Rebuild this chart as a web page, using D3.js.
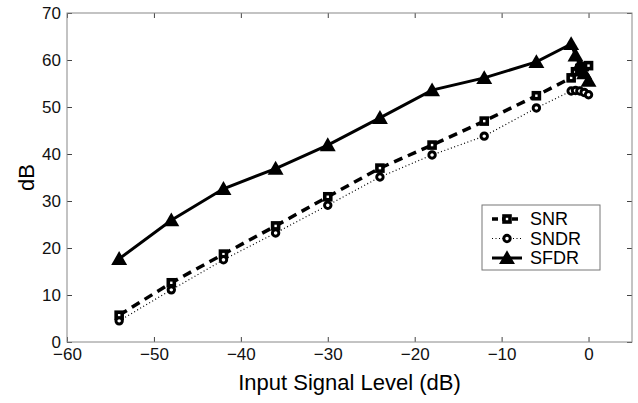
<!DOCTYPE html>
<html lang="en">
<head>
<meta charset="UTF-8">
<title>SNR / SNDR / SFDR vs input level</title>
<script src="https://d3js.org/d3.v7.min.js"></script>
<style>
  body { margin: 0; background: #fff; font-family: "Liberation Sans", Arial, sans-serif; }
  .tick text { font-size: 17px; fill: #111; }
</style>
</head>
<body>
<div id="chart"></div>
<script>
  // data
  const inputLevel = [-54, -48, -42, -36, -30, -24, -18, -12, -6, -2, -1.5, -1, -0.5, 0];
  const snr  = [5.7, 12.6, 18.7, 24.7, 30.9, 37.0, 41.9, 47.0, 52.4, 56.2, 57.5, 58.2, 58.6, 58.8];
  const sndr = [4.5, 11.1, 17.5, 23.2, 29.1, 35.1, 39.8, 43.8, 49.8, 53.4, 53.5, 53.4, 53.1, 52.6];
  const sfdr = [17.7, 25.9, 32.6, 36.9, 41.9, 47.7, 53.6, 56.2, 59.6, 63.4, 61.0, 59.0, 57.2, 55.6];
  const xTicks = [-60, -50, -40, -30, -20, -10, 0];
  const yTicks = [0, 10, 20, 30, 40, 50, 60, 70];
  const seriesNames = ["SNR", "SNDR", "SFDR"];

  const W = 638, H = 403;
  const margin = { top: 13, right: 6, bottom: 61, left: 67 };
  const width = W - margin.left - margin.right;
  const height = H - margin.top - margin.bottom;

  const svg = d3.select("#chart").append("svg")
      .attr("width", W).attr("height", H);
  const g = svg.append("g").attr("transform", `translate(${margin.left},${margin.top})`);

  const x = d3.scaleLinear().domain([-60, 5]).range([0, width]);
  const y = d3.scaleLinear().domain([0, 70]).range([height, 0]);

  // axes, ticks pointing inward like matlab
  const fmt = d => d < 0 ? "\u2212" + Math.abs(d) : d;
  const xAx = g.append("g").attr("transform", `translate(0,${height})`)
      .call(d3.axisBottom(x).tickValues(xTicks).tickSize(-5).tickPadding(9).tickFormat(fmt));
  const yAx = g.append("g")
      .call(d3.axisLeft(y).tickValues(yTicks).tickSize(-5).tickPadding(5).tickFormat(fmt));
  g.append("g").call(d3.axisTop(x).tickValues(xTicks).tickSize(-5).tickFormat(""));
  g.append("g").attr("transform", `translate(${width},0)`)
      .call(d3.axisRight(y).tickValues(yTicks).tickSize(-5).tickFormat(""));
  g.selectAll(".domain").remove();
  g.selectAll(".tick line").attr("stroke", "#444");
  xAx.selectAll(".tick text").attr("dy", "0.5em");
  yAx.selectAll(".tick text").attr("dx", "-1");

  g.append("rect").attr("width", width).attr("height", height)
      .attr("fill", "none").attr("stroke", "#888").attr("stroke-width", 1);

  // axis labels
  svg.append("text").attr("x", margin.left + x(-27.5)).attr("y", 390)
      .attr("text-anchor", "middle").attr("font-size", 22).text("Input Signal Level (dB)");
  svg.append("text").attr("transform", `translate(34,${margin.top + y(35)}) rotate(-90)`)
      .attr("text-anchor", "middle").attr("font-size", 22).text("dB");

  const rows = (vals) => inputLevel.map((v, i) => ({ x: v, y: vals[i] }));
  const line = d3.line().x(d => x(d.x)).y(d => y(d.y));

  const styles = {
    SNR:  { vals: snr,  width: 3.5, dash: "9,6" },
    SNDR: { vals: sndr, width: 1.2, dash: "1,2.5" },
    SFDR: { vals: sfdr, width: 3,   dash: null }
  };

  function drawMarker(sel, name) {
    if (name === "SNR") {
      sel.append("rect").attr("x", -3).attr("y", -3).attr("width", 6).attr("height", 6)
        .attr("fill", "#fff").attr("stroke", "#000").attr("stroke-width", 3.6);
    } else if (name === "SNDR") {
      sel.append("circle").attr("r", 3.2).attr("fill", "#fff")
        .attr("stroke", "#000").attr("stroke-width", 3);
    } else {
      sel.append("path").attr("d", d3.symbol(d3.symbolTriangle, 110)())
        .attr("transform", "translate(0,1.5)").attr("fill", "#000");
    }
  }

  seriesNames.forEach(name => {
    const s = styles[name];
    const data = rows(s.vals);
    g.append("path").datum(data).attr("d", line)
      .attr("fill", "none").attr("stroke", "#000")
      .attr("stroke-width", s.width).attr("stroke-dasharray", s.dash);
    g.selectAll(".m-" + name).data(data).enter().append("g")
      .attr("class", "m-" + name)
      .attr("transform", d => `translate(${x(d.x)},${y(d.y)})`)
      .each(function () { drawMarker(d3.select(this), name); });
  });

  // legend
  const lg = svg.append("g").attr("transform", "translate(482,205)");
  lg.append("rect").attr("width", 118).attr("height", 65)
    .attr("fill", "#fff").attr("stroke", "#777").attr("stroke-width", 1);
  seriesNames.forEach((name, i) => {
    const s = styles[name];
    const row = lg.append("g").attr("transform", `translate(0,${14 + i * 19.5})`);
    row.append("line").attr("x1", 10).attr("x2", 40)
      .attr("stroke", "#000").attr("stroke-width", s.width)
      .attr("stroke-dasharray", name === "SNR" ? "6,4" : s.dash);
    drawMarker(row.append("g").attr("transform", "translate(25,0)"), name);
    row.append("text").attr("x", 48).attr("y", 0).attr("dy", "0.36em")
      .attr("font-size", 18).text(name);
  });
</script>
</body>
</html>
